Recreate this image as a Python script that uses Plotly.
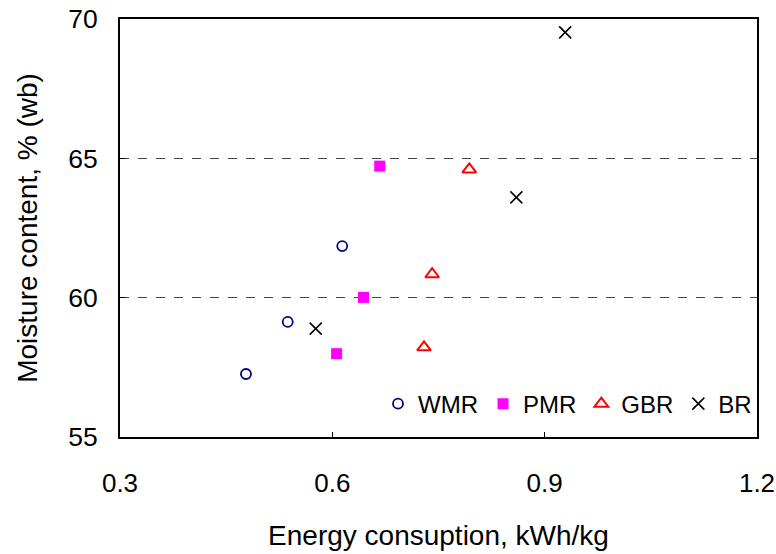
import plotly.graph_objects as go

# Data
wmr_x = [0.478, 0.537, 0.614]
wmr_y = [57.26, 59.13, 61.85]
pmr_x = [0.606, 0.644, 0.667]
pmr_y = [57.99, 60.01, 64.72]
gbr_x = [0.7295, 0.741, 0.7935]
gbr_y = [58.22, 60.84, 64.60]
br_x = [0.5765, 0.860, 0.929]
br_y = [58.89, 63.60, 69.52]

x_ticks = [0.3, 0.6, 0.9, 1.2]
x_tick_labels = ["0.3", "0.6", "0.9", "1.2"]
y_ticks = [55, 60, 65, 70]
y_tick_labels = ["55", "60", "65", "70"]

FONT = "Liberation Sans, Arial, sans-serif"

fig = go.Figure()
fig.add_trace(go.Scatter(x=wmr_x, y=wmr_y, mode="markers", name="WMR",
                         marker=dict(symbol="circle-open", size=10, color="#000080",
                                     line=dict(width=1.8, color="#000080"))))
fig.add_trace(go.Scatter(x=pmr_x, y=pmr_y, mode="markers", name="PMR",
                         marker=dict(symbol="square", size=11, color="#FF00FF")))
fig.add_trace(go.Scatter(x=gbr_x, y=gbr_y, mode="markers", name="GBR",
                         marker=dict(symbol="triangle-up-open", size=12, color="#FF0000",
                                     line=dict(width=2, color="#FF0000"))))
fig.add_trace(go.Scatter(x=br_x, y=br_y, mode="markers", name="BR",
                         marker=dict(symbol="x-thin-open", size=12, color="#000000",
                                     line=dict(width=1.6, color="#000000"))))

fig.update_layout(
    width=776, height=554,
    margin=dict(l=120, r=19, t=19, b=117, autoexpand=False),
    paper_bgcolor="white", plot_bgcolor="white",
    font=dict(family=FONT, color="black", size=24),
    showlegend=True,
    legend=dict(orientation="h", x=1.0, xanchor="right", y=0.025, yanchor="bottom",
                bgcolor="rgba(0,0,0,0)", font=dict(size=24, family=FONT),
                itemsizing="trace", tracegroupgap=0),
    xaxis=dict(range=[0.3, 1.2], tickvals=x_ticks, ticktext=x_tick_labels,
               ticks="inside", ticklen=5, tickwidth=1, tickcolor="black",
               showline=True, linecolor="black", linewidth=2, mirror=True,
               showgrid=False, zeroline=False, ticklabelstandoff=22,
               ticklabeloverflow="allow",
               tickfont=dict(size=26), automargin=False,
               title=dict(text="Energy consuption, kWh/kg", font=dict(size=28), standoff=28)),
    yaxis=dict(range=[55, 70], tickvals=y_ticks, ticktext=y_tick_labels,
               ticks="inside", ticklen=5, tickwidth=1, tickcolor="black",
               showline=True, linecolor="black", linewidth=2, mirror=True,
               showgrid=True, gridcolor="#444444", griddash="dash", gridwidth=1,
               zeroline=False, ticklabelstandoff=15, automargin=False,
               ticklabeloverflow="allow",
               tickfont=dict(size=26.5),
               title=dict(text="Moisture content, % (wb)", font=dict(size=28), standoff=22)),
)

# remove the page's default body margin so the figure fills the window exactly
fig.write_html("out.html",
               config={"displayModeBar": False},
               post_script="document.body.style.margin='0';document.body.style.overflow='hidden';")
